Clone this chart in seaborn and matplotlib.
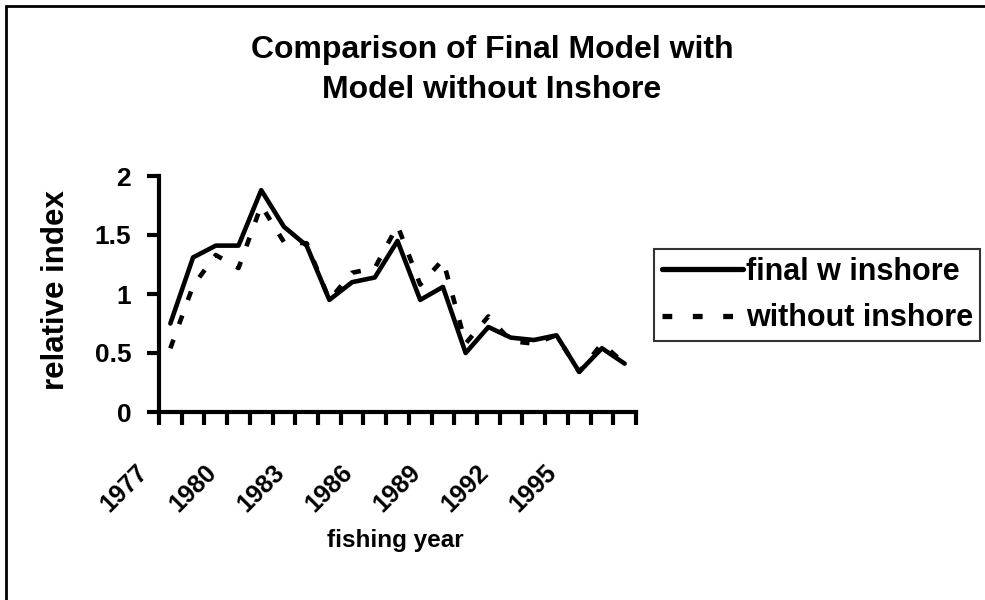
import matplotlib
matplotlib.use("Agg")
import matplotlib.pyplot as plt
import matplotlib.transforms as mtransforms
from matplotlib.patches import Rectangle
import seaborn as sns
import pandas as pd

years = list(range(1977, 1998))
final_w_inshore = [0.75, 1.31, 1.41, 1.41, 1.88, 1.57, 1.41, 0.95, 1.10, 1.14, 1.45,
                   0.95, 1.06, 0.50, 0.72, 0.63, 0.61, 0.65, 0.34, 0.54, 0.41]
without_inshore = [0.54, 1.07, 1.33, 1.22, 1.75, 1.44, 1.43, 0.95, 1.18, 1.22, 1.58,
                   1.08, 1.29, 0.58, 0.81, 0.60, 0.58, 0.65, 0.34, 0.58, 0.41]
series_names = ["final w inshore", "without inshore"]
label_years = [1977, 1980, 1983, 1986, 1989, 1992, 1995]
y_ticks = [0, 0.5, 1, 1.5, 2]
y_tick_labels = ["0", "0.5", "1", "1.5", "2"]

sns.set_style("white")
plt.rcParams["font.family"] = ["Liberation Sans", "DejaVu Sans"]
plt.rcParams["font.weight"] = "bold"
for key in ["text.color", "axes.labelcolor", "xtick.color", "ytick.color"]:
    plt.rcParams[key] = "black"

df = pd.DataFrame({
    "year": years * 2,
    "value": final_w_inshore + without_inshore,
    "series": [series_names[0]] * len(years) + [series_names[1]] * len(years),
})

fig = plt.figure(figsize=(9.85, 6.0), dpi=100)
ax = fig.add_axes([159 / 985, 1 - 412 / 600, 477 / 985, 236 / 600])

sns.lineplot(data=df, x="year", y="value", style="series", ax=ax,
             color="black", linewidth=3.3,
             dashes={series_names[0]: "", series_names[1]: (2.0, 3.6)},
             legend=True)

ax.set_xlim(years[0] - 0.5, years[-1] + 0.5)
ax.set_ylim(0, 2)

# tick marks at category boundaries
bounds = [y - 0.5 for y in years] + [years[-1] + 0.5]
ax.set_xticks(bounds)
ax.set_xticklabels([])
ax.tick_params(axis="x", which="major", direction="out", length=9, width=3, color="black", bottom=True)
ax.set_xticks(label_years, minor=True)
ax.set_xticklabels([str(y) for y in label_years], minor=True, rotation=45,
                   rotation_mode="anchor", ha="right", va="center",
                   fontsize=18, fontweight="bold")
ax.tick_params(axis="x", which="minor", length=0, pad=0)
offset = mtransforms.ScaledTranslation(-26 / 100, -57 / 100, fig.dpi_scale_trans)
for lab in ax.get_xticklabels(minor=True):
    lab.set_transform(lab.get_transform() + offset)

ax.set_yticks(y_ticks)
ax.set_yticklabels(y_tick_labels, fontsize=19, fontweight="bold")
ax.tick_params(axis="y", direction="out", length=9, width=3, color="black", left=True, pad=11)

for side in ["top", "right"]:
    ax.spines[side].set_visible(False)
for side in ["left", "bottom"]:
    ax.spines[side].set_linewidth(3)
    ax.spines[side].set_color("black")

ax.set_xlabel("fishing year", fontsize=17.5, fontweight="bold")
ax.xaxis.label.set_va("center")
ax.xaxis.set_label_coords((395 - 159) / 477, (412 - 540) / 236)
ax.set_ylabel("relative index", fontsize=22.5, fontweight="bold")
ax.yaxis.label.set_va("center")
ax.yaxis.set_label_coords((56 - 159) / 477, (412 - 290) / 236)

fig.text(492 / 985, 1 - 70 / 600, "Comparison of Final Model with\nModel without Inshore",
         ha="center", va="center", fontsize=23, fontweight="bold", linespacing=1.4)

handles, labels = ax.get_legend_handles_labels()
leg = ax.legend(handles, labels, loc="center left",
                bbox_to_anchor=(654 / 985, 1 - 295 / 600), bbox_transform=fig.transFigure,
                frameon=True, fancybox=False, edgecolor="black",
                prop={"family": ["Liberation Sans"], "weight": "bold", "size": 22},
                handlelength=2.65, handletextpad=0.1, borderpad=0.25, labelspacing=0.55,
                borderaxespad=0)
leg.get_frame().set_linewidth(1.5)
leg_lines = leg.get_lines()
for line in leg_lines:
    line.set_linewidth(3.8)
    line.set_color("black")
leg_lines[1].set_dashes((1.85, 3.9))

fig.patches.append(Rectangle((6 / 985, -0.05), 1.1, 1 - 6 / 600 + 0.05,
                             transform=fig.transFigure, fill=False,
                             edgecolor="black", linewidth=2.0))

fig.savefig("out.png", dpi=100, facecolor="white")
